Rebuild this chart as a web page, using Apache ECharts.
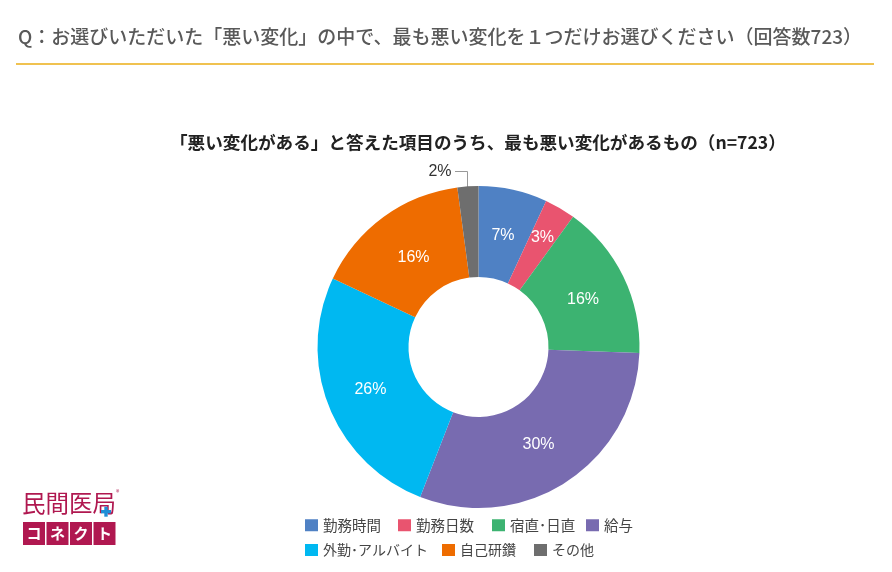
<!DOCTYPE html>
<html>
<head>
<meta charset="utf-8">
<style>
html,body{margin:0;padding:0;background:#fff}
#main{width:892px;height:572px}
</style>
<script src="https://cdn.jsdelivr.net/npm/echarts@6/dist/echarts.min.js"></script>
</head>
<body>
<div id="main"></div>
<script>
var categories = ['勤務時間','勤務日数','宿直･日直','給与','外勤･アルバイト','自己研鑽','その他'];
// labels show them rounded
var values = [6.9,3.1,15.6,30.3,26.1,15.9,2.1];
var colors = ['#4f81c4','#e9546f','#3cb371','#786bb0','#00b8f1','#ee6c00','#6e6e6e'];
var logoKana = ['コ','ネ','ク','ト'];

var font = '"Noto Sans CJK JP","Noto Sans",sans-serif';
var logoColor = '#b01850';

// legend is placed item by item, the gaps in the original are uneven
var legendLeft = [305,398,492,586,305,442,534];
var legendTop = [518,518,518,518,543,543,543];
// small nudges so the inside labels sit where they do in the original
var labelDx = [-1,4,-2,-5,2,5,0];
var labelDy = [4,-7,4,-1,-1,6,0];

var logoCells = logoKana.map(function(k,i){
    return {
        type:'group', x:23+i*23.5, y:522,
        children:[
            {type:'rect', shape:{x:0,y:0,width:22,height:23}, style:{fill:logoColor}},
            {type:'text', style:{text:k, x:11, y:11.5, align:'center', verticalAlign:'middle', fill:'#fff', font:'bold 15px '+font}}
        ]
    };
});

var dom = document.getElementById('main');
var myChart = echarts.init(dom);
var data = categories.map(function(c,i){
    var d = {name:c, value:values[i], itemStyle:{color:colors[i]}};
    if(c=='その他'){
        d.label = {position:'outside', color:'#333', show:true};
    }
    return d;
});
var legends = categories.map(function(c,i){
    return {
        data:[c], left:legendLeft[i], top:legendTop[i], padding:0,
        orient:'horizontal', icon:'rect', itemWidth:13, itemHeight:12, itemGap:5,
        selectedMode:false,
        textStyle:{color:'#444', fontSize:i<4?14.5:14, fontFamily:font}
    };
});
var option = {
    animation:false,
    backgroundColor:'#fff',
    title:[
        {text:'Q：お選びいただいた「悪い変化」の中で、最も悪い変化を１つだけお選びください（回答数723）',
         left:13, top:22, textStyle:{color:'#595959', fontSize:19, fontWeight:500, fontFamily:font}},
        {text:'「悪い変化がある」と答えた項目のうち、最も悪い変化があるもの（n=723）',
         left:165, top:129, textStyle:{color:'#222', fontSize:17.6, fontWeight:'bold', fontFamily:font}}
    ],
    legend:legends,
    series:[{
        type:'pie',
        center:[478.5,347],
        radius:[70,161],
        startAngle:90,
        clockwise:true,
        data:data,
        label:{
            show:true, position:'inside',
            formatter:function(p){ return Math.round(p.value)+'%'; },
            color:'#fff', fontSize:16, fontFamily:'"Liberation Sans",Arial,sans-serif'
        },
        labelLine:{show:false},
        labelLayout:function(params){
            if(params.dataIndex==6){
                return {x:440, y:172, align:'center', verticalAlign:'middle'};
            }
            return {dx:labelDx[params.dataIndex], dy:labelDy[params.dataIndex]};
        }
    }],
    graphic:[
        {type:'line', shape:{x1:16,y1:64,x2:874,y2:64}, style:{stroke:'#f0c250',lineWidth:2}},
        {type:'polyline', shape:{points:[[455,171.5],[467.5,171.5],[467.5,189]]}, style:{stroke:'#999',lineWidth:1,fill:null}},
        {type:'text', style:{text:'民間医局', x:22, y:491, fill:logoColor, font:'23.5px '+font}},
        {type:'text', style:{text:'®', x:116, y:489, fill:logoColor, font:'7px '+font}},
        {type:'rect', shape:{x:101,y:510,width:10,height:3.4}, style:{fill:'#1f8fd6'}, z:5},
        {type:'rect', shape:{x:104.3,y:506.7,width:3.4,height:10}, style:{fill:'#1f8fd6'}, z:5}
    ].concat(logoCells)
};
myChart.setOption(option, true);
</script>
</body>
</html>
